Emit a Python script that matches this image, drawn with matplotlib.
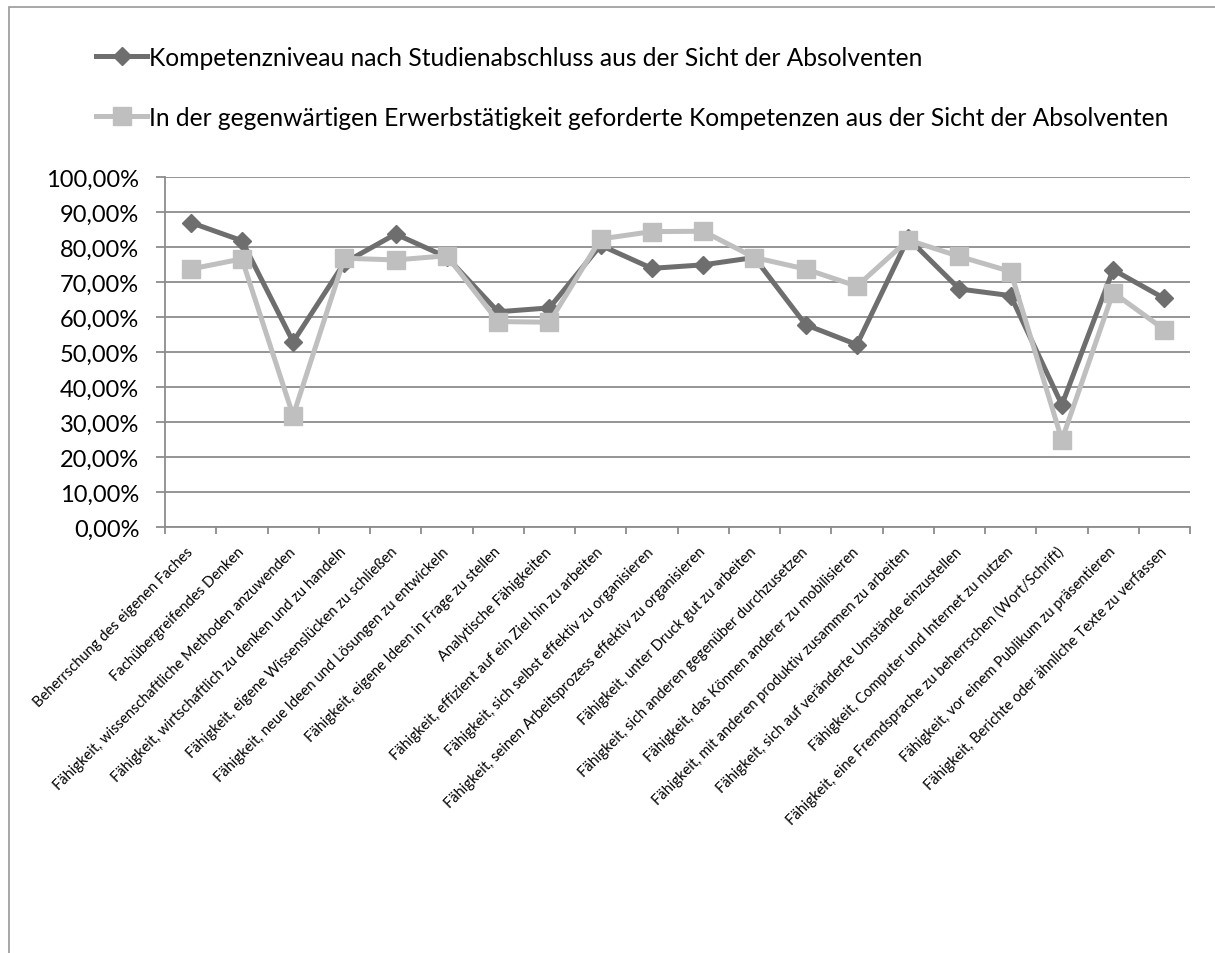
import numpy as np
import matplotlib
matplotlib.use('Agg')
import matplotlib.pyplot as plt
from matplotlib.patches import Rectangle
from matplotlib.ticker import FuncFormatter, MultipleLocator

plt.rcParams['font.family'] = ['Lato', 'DejaVu Sans']

kategorien = [
    'Beherrschung des eigenen Faches',
    'Fachübergreifendes Denken',
    'Fähigkeit, wissenschaftliche Methoden anzuwenden',
    'Fähigkeit, wirtschaftlich zu denken und zu handeln',
    'Fähigkeit, eigene Wissenslücken zu schließen',
    'Fähigkeit, neue Ideen und Lösungen zu entwickeln',
    'Fähigkeit, eigene Ideen in Frage zu stellen',
    'Analytische Fähigkeiten',
    'Fähigkeit, effizient auf ein Ziel hin zu arbeiten',
    'Fähigkeit, sich selbst effektiv zu organisieren',
    'Fähigkeit, seinen Arbeitsprozess effektiv zu organisieren',
    'Fähigkeit, unter Druck gut zu arbeiten',
    'Fähigkeit, sich anderen gegenüber durchzusetzen',
    'Fähigkeit, das Können anderer zu mobilisieren',
    'Fähigkeit, mit anderen produktiv zusammen zu arbeiten',
    'Fähigkeit, sich auf veränderte Umstände einzustellen',
    'Fähigkeit, Computer und Internet zu nutzen',
    'Fähigkeit, eine Fremdsprache zu beherrschen (Wort/Schrift)',
    'Fähigkeit, vor einem Publikum zu präsentieren',
    'Fähigkeit, Berichte oder ähnliche Texte zu verfassen',
]

# Angaben in Prozent
niveau = [87.0, 81.8, 52.9, 75.5, 83.7, 77.1, 61.5, 62.6, 80.5, 73.9,
          74.9, 77.0, 57.8, 52.1, 82.5, 68.0, 66.1, 34.9, 73.5, 65.3]
gefordert = [73.7, 76.6, 31.8, 76.8, 76.3, 77.5, 58.7, 58.5, 82.3, 84.4,
             84.5, 77.0, 73.7, 68.8, 82.0, 77.3, 73.0, 24.9, 67.0, 56.4]

serien = [
    'Kompetenzniveau nach Studienabschluss aus der Sicht der Absolventen',
    'In der gegenwärtigen Erwerbstätigkeit geforderte Kompetenzen aus der Sicht der Absolventen',
]

dunkel = '#6e6e6e'
hell = '#bfbfbf'
raster = '#8c8c8c'

fig = plt.figure(figsize=(12.15, 9.54), dpi=100)
ax = fig.add_axes([165 / 1215, 1 - 528 / 954, 1025 / 1215, 350 / 954])

x = np.arange(len(kategorien))
ax.plot(x, niveau, color=dunkel, lw=3.6, marker='D', ms=9,
        label=serien[0], zorder=3)
ax.plot(x, gefordert, color=hell, lw=3.6, marker='s', ms=13,
        label=serien[1], zorder=4)

ax.set_xlim(-0.5, len(kategorien) - 0.5)
ax.set_ylim(0, 100)
ax.yaxis.set_major_locator(MultipleLocator(10))
ax.yaxis.set_major_formatter(FuncFormatter(lambda v, p: f'{v:.2f}%'.replace('.', ',')))
ax.grid(axis='y', color=raster, lw=1.3)
ax.set_axisbelow(True)

# Striche zwischen den Kategorien
ax.set_xticks(np.arange(len(kategorien) + 1) - 0.5)
ax.set_xticklabels([])
ax.set_xticks(x, minor=True)
ax.set_xticklabels(kategorien, minor=True, rotation=45, ha='right',
                   va='center', rotation_mode='anchor', fontsize=10.5)
ax.tick_params(axis='x', which='minor', length=0, pad=16)
ax.tick_params(axis='x', which='major', length=5, color=raster, width=1.3)
ax.tick_params(axis='y', length=6.5, color=raster, width=1.3, labelsize=17, pad=12)

for s in ['top', 'right']:
    ax.spines[s].set_visible(False)
for s in ['left', 'bottom']:
    ax.spines[s].set_color(raster)
    ax.spines[s].set_linewidth(1.3)

fig.legend(loc='upper left', bbox_to_anchor=(86 / 1215, 1 - 37 / 954),
           frameon=False, fontsize=17.7, handlelength=2.1, handletextpad=0.05,
           labelspacing=1.5, borderaxespad=0)

# Rahmen des Diagrammbereichs
fig.add_artist(Rectangle((9 / 1215, -0.1), 1.2, 1.1 - 8 / 954,
                         transform=fig.transFigure, fill=False,
                         edgecolor='#a0a0a0', lw=1.3))

fig.savefig('out.png', dpi=100)
